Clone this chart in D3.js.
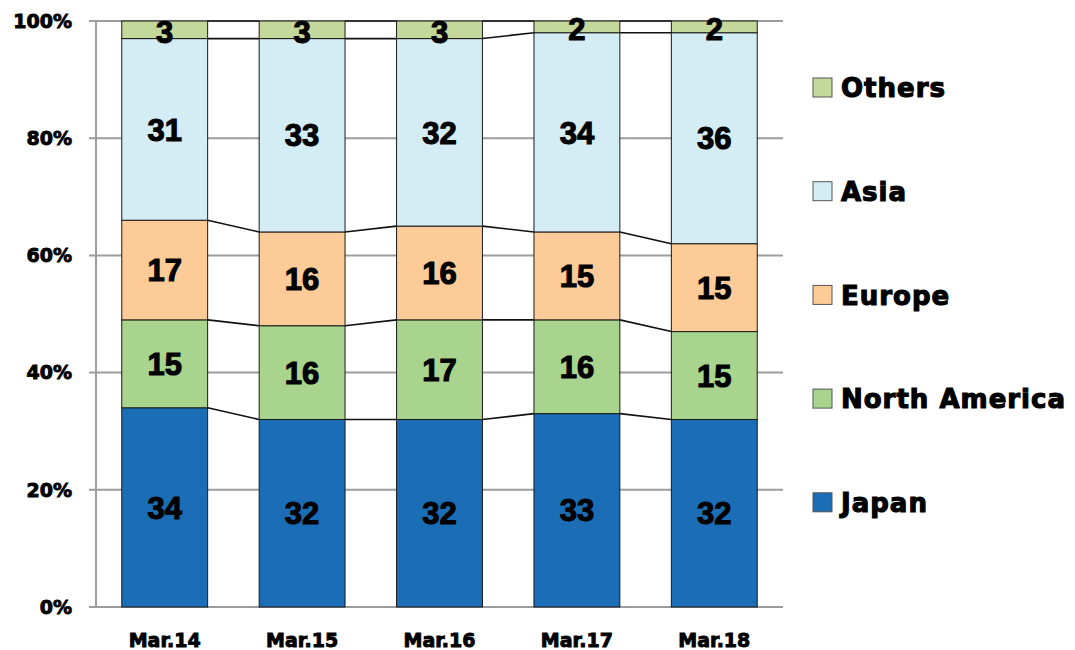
<!DOCTYPE html>
<html>
<head>
<meta charset="utf-8">
<script src="https://cdn.jsdelivr.net/npm/d3@7"></script>
<style>
  body { margin: 0; background: #fff; }
  text { font-weight: bold; }
</style>
</head>
<body>
<script>
var categories = ["Mar.14", "Mar.15", "Mar.16", "Mar.17", "Mar.18"];
var seriesNames = ["Japan", "North America", "Europe", "Asia", "Others"];
var japan = [34, 32, 32, 33, 32];
var northAmerica = [15, 16, 17, 16, 15];
var europe = [17, 16, 16, 15, 15];
var asia = [31, 33, 32, 34, 36];
var others = [3, 3, 3, 2, 2];
var yTicks = [0, 20, 40, 60, 80, 100];
var colors = ["#1b6db6", "#a8d48d", "#fdcb98", "#d4ecf3", "#c5d89b"];

var width = 1075, height = 650;
var margin = { left: 96, right: 292, top: 21, bottom: 43 };
var heavy = "'DejaVu Sans', Verdana, sans-serif";
var plain = "'Liberation Sans', Arial, sans-serif";

var values = [japan, northAmerica, europe, asia, others];
var rows = categories.map(function (c, i) {
  var r = { cat: c };
  seriesNames.forEach(function (s, j) { r[s] = values[j][i]; });
  return r;
});
var stacked = d3.stack().keys(seriesNames)(rows);

var svg = d3.select("body").append("svg")
  .attr("width", width)
  .attr("height", height);

var x = d3.scaleBand()
  .domain(categories)
  .range([margin.left, width - margin.right])
  .paddingInner(0.375)
  .paddingOuter(0.1875);

var y = d3.scaleLinear()
  .domain([0, 100])
  .range([height - margin.bottom, margin.top]);

// gridlines
svg.append("g").selectAll("line")
  .data(yTicks)
  .enter().append("line")
  .attr("x1", margin.left - 7)
  .attr("x2", width - margin.right)
  .attr("y1", function (d) { return y(d); })
  .attr("y2", function (d) { return y(d); })
  .attr("stroke", "#9c9c9c")
  .attr("stroke-width", 2);

svg.append("line")
  .attr("x1", margin.left).attr("x2", margin.left)
  .attr("y1", y(100)).attr("y2", y(0))
  .attr("stroke", "#9c9c9c")
  .attr("stroke-width", 2);

// y labels
svg.append("g").selectAll("text")
  .data(yTicks)
  .enter().append("text")
  .attr("x", 72)
  .attr("y", function (d) { return y(d); })
  .attr("dy", "0.36em")
  .attr("text-anchor", "end")
  .attr("font-family", heavy)
  .attr("font-size", 19)
  .attr("stroke", "#000")
  .attr("stroke-width", 0.9)
  .text(function (d) { return d + "%"; });

// series lines between bars
stacked.forEach(function (layer) {
  for (var i = 0; i < categories.length - 1; i++) {
    svg.append("line")
      .attr("x1", x(categories[i]) + x.bandwidth())
      .attr("x2", x(categories[i + 1]))
      .attr("y1", y(layer[i][1]))
      .attr("y2", y(layer[i + 1][1]))
      .attr("stroke", "#111")
      .attr("stroke-width", 1.6);
  }
});

// bars
var layers = svg.append("g").selectAll("g")
  .data(stacked)
  .enter().append("g")
  .attr("fill", function (d, i) { return colors[i]; });

layers.selectAll("rect")
  .data(function (d) { return d; })
  .enter().append("rect")
  .attr("x", function (d) { return x(d.data.cat); })
  .attr("y", function (d) { return y(d[1]); })
  .attr("width", x.bandwidth())
  .attr("height", function (d) { return y(d[0]) - y(d[1]); })
  .attr("stroke", "#1a1a1a")
  .attr("stroke-width", 1);

// value labels
layers.selectAll("text")
  .data(function (d) { return d.map(function (p) { p.key = d.key; return p; }); })
  .enter().append("text")
  .attr("x", function (d) { return x(d.data.cat) + x.bandwidth() / 2; })
  .attr("y", function (d) { return (y(d[0]) + y(d[1])) / 2; })
  .attr("dy", function (d) { return d.key === "Others" ? "0.42em" : "0.36em"; })
  .attr("text-anchor", "middle")
  .attr("fill", "#000")
  .attr("font-family", plain)
  .attr("font-size", 31)
  .attr("stroke", "#000")
  .attr("stroke-width", 1.1)
  .text(function (d) { return d[1] - d[0]; });

// x labels
svg.append("g").selectAll("text")
  .data(categories)
  .enter().append("text")
  .attr("x", function (d) { return x(d) + x.bandwidth() / 2; })
  .attr("y", 640)
  .attr("dy", "0.36em")
  .attr("text-anchor", "middle")
  .attr("font-family", heavy)
  .attr("font-size", 19)
  .attr("stroke", "#000")
  .attr("stroke-width", 0.9)
  .text(function (d) { return d; });

// legend (top to bottom: Others ... Japan)
var legendItems = seriesNames.slice().reverse();
var legend = svg.append("g").selectAll("g")
  .data(legendItems)
  .enter().append("g")
  .attr("transform", function (d, i) { return "translate(813," + (88 + i * 103.7) + ")"; });

legend.append("rect")
  .attr("x", 0)
  .attr("y", -10)
  .attr("width", 19)
  .attr("height", 19)
  .attr("fill", function (d) { return colors[seriesNames.indexOf(d)]; })
  .attr("stroke", "#555")
  .attr("stroke-width", 1);

legend.append("text")
  .attr("x", 28)
  .attr("y", 0)
  .attr("dy", "0.36em")
  .attr("font-family", heavy)
  .attr("font-size", 26)
  .attr("letter-spacing", 1)
  .attr("stroke", "#000")
  .attr("stroke-width", 1.1)
  .text(function (d) { return d; });
</script>
</body>
</html>
